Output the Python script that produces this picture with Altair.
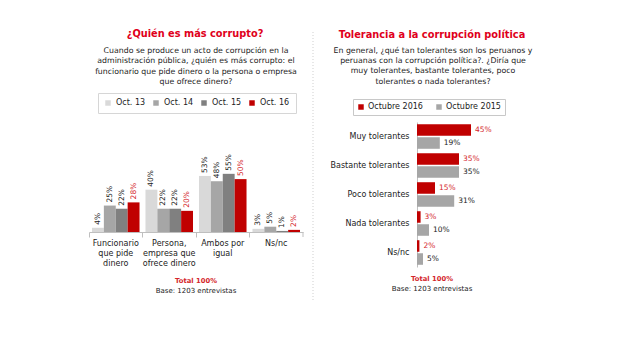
import json
import altair as alt
import pandas as pd

FONT = "DejaVu Sans"
RED = "#c00000"
RED_TXT = "#d4262c"
TITLE_RED = "#e0001b"
DARK = "#222222"
GRID = "#bfbfbf"

# ---------------- Left panel data ----------------
left_cat_lines = [["Funcionario", "que pide", "dinero"],
                  ["Persona,", "empresa que", "ofrece dinero"],
                  ["Ambos por", "igual"],
                  ["Ns/nc"]]
left_categories = [" ".join(l) for l in left_cat_lines]
left_series = ["Oct. 13", "Oct. 14", "Oct. 15", "Oct. 16"]
left_colors = ["#d9d9d9", "#a6a6a6", "#808080", RED]
oct13 = [4, 40, 53, 3]
oct14 = [25, 22, 48, 5]
oct15 = [22, 22, 55, 1]
oct16 = [28, 20, 50, 2]

# ---------------- Right panel data ----------------
right_categories = ["Muy tolerantes", "Bastante tolerantes", "Poco tolerantes",
                    "Nada tolerantes", "Ns/nc"]
right_series = ["Octubre 2016", "Octubre 2015"]
right_colors = [RED, "#a6a6a6"]
oct2016 = [45, 35, 15, 3, 2]
oct2015 = [19, 35, 31, 10, 5]

left_rows = []
for s, vals in zip(left_series, [oct13, oct14, oct15, oct16]):
    for c, v in zip(left_categories, vals):
        left_rows.append({"cat": c, "series": s, "v": v, "label": f"{v}%"})
left_df = pd.DataFrame(left_rows)

right_rows = []
for s, vals in zip(right_series, [oct2016, oct2015]):
    for c, v in zip(right_categories, vals):
        right_rows.append({"cat": c, "series": s, "v": v, "label": f"{v}%"})
right_df = pd.DataFrame(right_rows)


def text_layer(txt, x, y, size, color=DARK, weight="normal", line_height=None):
    kw = dict(fontSize=size, color=color, fontWeight=weight, baseline="middle",
              align="center", font=FONT)
    if line_height:
        kw["lineHeight"] = line_height
    return alt.Chart(alt.Data(values=[{}])).mark_text(**kw).encode(
        x=alt.value(x), y=alt.value(y), text=alt.value(txt))


# ---------------- Left chart ----------------
LW, LH = 214, 110
label_map = json.dumps(dict(zip(left_categories, left_cat_lines)), ensure_ascii=False)

lx = alt.X("cat:N", sort=left_categories,
           scale=alt.Scale(paddingInner=0, paddingOuter=0),
           axis=alt.Axis(title=None, labelAngle=0, labelExpr=f"{label_map}[datum.label]",
                         bandPosition=0, labelBaseline="top",
                         labelPadding=2, labelLineHeight=10, labelFontSize=8,
                         labelColor=DARK, labelFont=FONT, tickSize=5, tickColor=GRID,
                         domainColor=GRID))
lxo = alt.XOffset("series:N", sort=left_series,
                  scale=alt.Scale(paddingOuter=0.25, paddingInner=0))
ly = alt.Y("v:Q", scale=alt.Scale(domain=[0, 104]), axis=None)

left_bars = alt.Chart(left_df).mark_bar().encode(
    x=lx, xOffset=lxo, y=ly,
    color=alt.Color("series:N", sort=left_series,
                    scale=alt.Scale(domain=left_series, range=left_colors),
                    legend=alt.Legend(title=None, orient="none", legendX=9, legendY=-29,
                                      direction="horizontal", symbolType="square",
                                      symbolSize=30, symbolStrokeWidth=0,
                                      labelFontSize=8, labelFont=FONT, labelColor=DARK,
                                      strokeColor="#d6d6d6", padding=6,
                                      columnPadding=6, labelOffset=4)))

left_vals = alt.Chart(left_df).mark_text(angle=270, align="left", baseline="middle",
                                         dx=3, fontSize=7.5, font=FONT).encode(
    x=alt.X("cat:N", sort=left_categories), xOffset=lxo, y=ly,
    text="label:N",
    color=alt.condition(alt.datum.series == "Oct. 16", alt.value(RED_TXT), alt.value(DARK)))

left_end_tick = alt.Chart(alt.Data(values=[{}])).mark_rule(color=GRID).encode(
    x=alt.value(LW), y=alt.value(LH), y2=alt.value(LH + 5))

left = alt.layer(
    left_bars, left_vals, left_end_tick,
    text_layer("¿Quién es más corrupto?", 106, -88, 9.8, color=TITLE_RED, weight="bold"),
    text_layer(["Cuando se produce un acto de corrupción en la",
                "administración pública, ¿quién es más corrupto: el",
                "funcionario que pide dinero o la persona o empresa",
                "que ofrece dinero?"], 107, -71, 7.8, line_height=10.4),
    text_layer("Total 100%", 107, 159, 6.8, color=RED_TXT, weight="bold"),
    text_layer("Base:  1203 entrevistas", 107, 169, 7),
).properties(width=LW, height=LH)

# ---------------- Right chart ----------------
RW, RH = 120, 145
ry = alt.Y("cat:N", sort=right_categories,
           scale=alt.Scale(paddingInner=0, paddingOuter=0),
           axis=alt.Axis(title=None, ticks=False, labelPadding=8, labelFontSize=8,
                         labelFont=FONT, labelColor=DARK, domainColor=GRID))
ryo = alt.YOffset("series:N", sort=right_series,
                  scale=alt.Scale(paddingOuter=0.17, paddingInner=0.115))
rx = alt.X("v:Q", scale=alt.Scale(domain=[0, 100]), axis=None)

right_bars = alt.Chart(right_df).mark_bar().encode(
    y=ry, yOffset=ryo, x=rx,
    color=alt.Color("series:N", sort=right_series,
                    scale=alt.Scale(domain=right_series, range=right_colors),
                    legend=alt.Legend(title=None, orient="none", legendX=-64, legendY=-23,
                                      direction="horizontal", symbolType="square",
                                      symbolSize=30, symbolStrokeWidth=0,
                                      labelFontSize=8, labelFont=FONT, labelColor=DARK,
                                      strokeColor="#c8c8c8", padding=4,
                                      columnPadding=12, labelOffset=3)))

right_vals = alt.Chart(right_df).mark_text(align="left", baseline="middle", dx=4,
                                           fontSize=7.5, font=FONT).encode(
    y=alt.Y("cat:N", sort=right_categories), yOffset=ryo, x=rx,
    text="label:N",
    color=alt.condition(alt.datum.series == "Octubre 2016", alt.value(RED_TXT), alt.value(DARK)))

divider = alt.Chart(alt.Data(values=[{}])).mark_rule(color="#cfcfcf", strokeDash=[1, 2]).encode(
    x=alt.value(-104), y=alt.value(-90), y2=alt.value(178))

right = alt.layer(
    right_bars, right_vals, divider,
    text_layer("Tolerancia a la corrupción política", 15, -87, 9.8, color=TITLE_RED, weight="bold"),
    text_layer(["En general, ¿qué tan tolerantes son los peruanos y",
                "peruanas con la corrupción política?.  ¿Diría que",
                "muy tolerantes, bastante tolerantes, poco",
                "tolerantes o nada tolerantes?"], 16, -71, 7.8, line_height=10.2),
    text_layer("Total 100%", 15, 157, 6.8, color=RED_TXT, weight="bold"),
    text_layer("Base:  1203 entrevistas", 15, 167, 7),
).properties(width=RW, height=RH)

chart = alt.hconcat(left, right, spacing=8).resolve_scale(
    color="independent"
).properties(
    padding={"left": 80, "top": 21, "right": 0, "bottom": 0}
).configure(font=FONT).configure_view(stroke=None)

chart.save("out.html", embed_options={"renderer": "svg", "actions": False})
